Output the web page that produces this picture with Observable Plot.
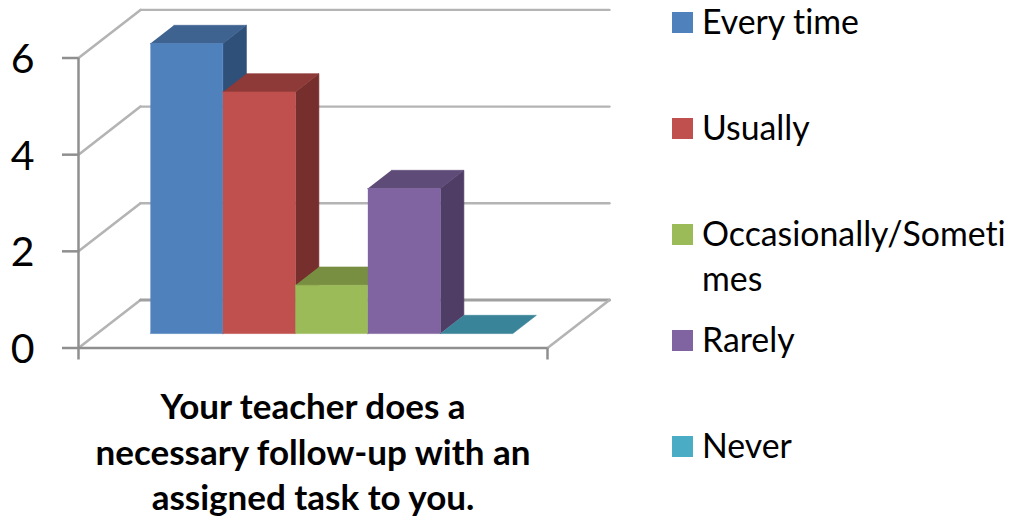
<!DOCTYPE html>
<html>
<head>
<meta charset="utf-8">
<script src="https://cdn.jsdelivr.net/npm/d3@7"></script>
<script src="https://cdn.jsdelivr.net/npm/@observablehq/plot@0.6"></script>
<style>
  html, body { margin: 0; padding: 0; background: #fff; overflow: hidden; }
  #wrap { position: relative; width: 1014px; height: 516px; font-family: Lato, sans-serif; font-variant-ligatures: none; }
  svg text { font-variant-ligatures: none; }
  .item { position: absolute; left: 672px; width: 342px; overflow: hidden; display: flex; align-items: flex-start; color: #000; font-size: 33.8px; line-height: 45px; }
  .sw { flex: none; width: 21px; height: 21px; margin: 12px 9px 0 0; }
  .lbl { white-space: pre; margin-top: -1px; }
</style>
</head>
<body>
<div id="wrap"></div>
<script>
const categories = ["Every time", "Usually", "Occasionally/Sometimes", "Rarely", "Never"];
const legendLabels = ["Every time", "Usually", "Occasionally/Someti\nmes", "Rarely", "Never"];
const values = [6, 5, 1, 3, 0];
const frontColors = ["#4F81BD", "#C0504D", "#9BBB59", "#8064A2", "#4BACC6"];
const topColors = ["#3E6390", "#8E3A38", "#788F42", "#5F4B78", "#3A8499"];
const sideColors = ["#2F5078", "#772F2D", "#64783A", "#4F3D66", "#2F6E80"];
const yTicks = [0, 2, 4, 6];
const legendTops = [0, 106, 212, 318, 424];
const axisTitle = "Your teacher does a\nnecessary follow-up with an\nassigned task to you.";

// Oblique projection: depth 0 is the front plane, depth 1 is the back wall.
const depthX = 0.855, depthY = 0.995;
const barNear = 0.3, barFar = 0.68;
const xMin = -0.735, xMax = 5.735;
const P = (i, v, d) => ({x: i + d * depthX, y: v + d * depthY});
const poly = (pts, fill) => Plot.line(pts, {x: "x", y: "y", fill, stroke: fill, strokeWidth: 0.6});
const seg = (a, b, stroke, strokeWidth) => Plot.line([a, b], {x: "x", y: "y", stroke, strokeWidth});

const wallColor = "#b4b4b4", axisColor = "#8f8f8f";

const walls = [
  ...yTicks.flatMap(t => [
    seg(P(xMin, t, 0), P(xMin, t, 1), wallColor, 2.6),
    seg(P(xMin, t, 1), P(xMax, t, 1), t === 0 ? "#a0a0a0" : wallColor, t === 0 ? 3 : 2.4)
  ]),
  seg(P(xMax, 0, 0), P(xMax, 0, 1), wallColor, 2.6)
];

const bars = values.flatMap((v, i) => {
  const marks = [];
  if (v > 0) marks.push(poly([P(i + 1, 0, barNear), P(i + 1, 0, barFar), P(i + 1, v, barFar), P(i + 1, v, barNear)], sideColors[i]));
  marks.push(poly([P(i, v, barNear), P(i + 1, v, barNear), P(i + 1, v, barFar), P(i, v, barFar)], topColors[i]));
  if (v > 0) marks.push(poly([P(i, 0, barNear), P(i + 1, 0, barNear), P(i + 1, v, barNear), P(i, v, barNear)], frontColors[i]));
  return marks;
});

const chart = Plot.plot({
  width: 1014,
  height: 516,
  marginLeft: 78,
  marginRight: 467,
  marginTop: 57.5,
  marginBottom: 168.5,
  style: {fontFamily: "Lato, sans-serif", background: "#fff", overflow: "visible"},
  x: {domain: [xMin, xMax], axis: null},
  y: {domain: [0, 6], axis: null},
  marks: [
    ...walls,
    ...bars,
    Plot.ruleX([xMin], {y1: 0, y2: 6, stroke: axisColor, strokeWidth: 2.5}),
    Plot.ruleX([xMin, xMax], {y1: 0, y2: 0, insetBottom: -12, stroke: axisColor, strokeWidth: 2.5}),
    Plot.ruleY([0], {x1: xMin, x2: xMax, stroke: axisColor, strokeWidth: 2.5}),
    Plot.axisY({ticks: yTicks, tickSize: 16, stroke: axisColor, strokeWidth: 2.5, text: null, label: null}),
    Plot.textY(yTicks, {y: d => d, frameAnchor: "left", dx: -44, dy: 2, text: d => String(d), textAnchor: "end", fontSize: 41, fill: "#000"}),
    Plot.text([axisTitle], {x: (xMin + xMax) / 2, y: 0, dy: 39, lineAnchor: "top", lineHeight: 1.3, fontSize: 35, fontWeight: 700, fill: "#000", textAnchor: "middle"})
  ]
});

const wrap = document.getElementById("wrap");
wrap.appendChild(chart);
legendLabels.forEach((label, i) => {
  const row = document.createElement("div");
  row.className = "item";
  row.style.top = legendTops[i] + "px";
  const sw = document.createElement("div");
  sw.className = "sw";
  sw.style.background = frontColors[i];
  const t = document.createElement("div");
  t.className = "lbl";
  t.textContent = label;
  row.append(sw, t);
  wrap.appendChild(row);
});
</script>
</body>
</html>
